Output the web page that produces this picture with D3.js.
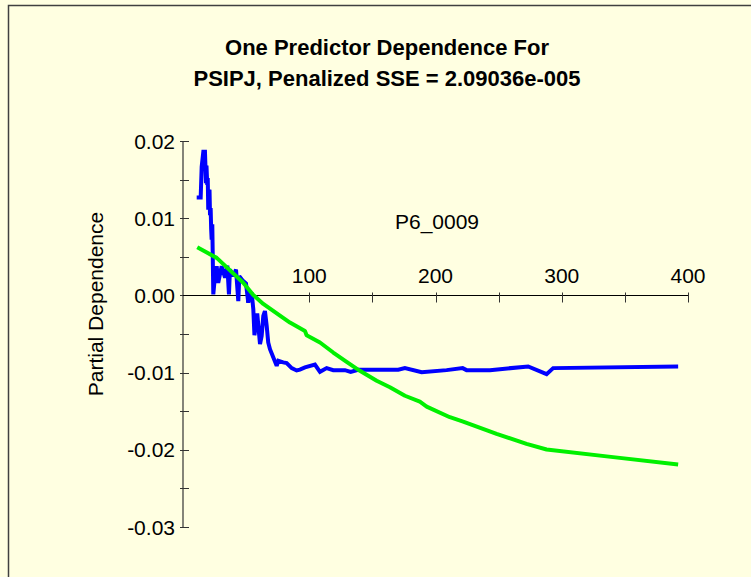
<!DOCTYPE html>
<html>
<head>
<meta charset="utf-8">
<script src="https://cdn.jsdelivr.net/npm/d3@7/dist/d3.min.js"></script>
<style>
  html, body { margin: 0; padding: 0; background: #FFFFE1; }
  svg { display: block; }
  text { font-family: "Liberation Sans", Arial, sans-serif; fill: #000; }
</style>
</head>
<body>
<svg id="chart" width="751" height="577"></svg>
<script>
// ---- Data ----
const titleLines = ["One Predictor Dependence For", "PSIPJ, Penalized SSE = 2.09036e-005"];
const xLabel = "P6_0009";
const yLabel = "Partial Dependence";

const xMajorTicks = [100, 200, 300, 400];
const xAllTicks = [50, 100, 150, 200, 250, 300, 350, 400];
const yMajorTicks = [0.02, 0.01, 0.00, -0.01, -0.02, -0.03];
const yAllTicks = [0.02, 0.015, 0.01, 0.005, 0, -0.005, -0.01, -0.015, -0.02, -0.025, -0.03];

// Blue series: partial dependence (x, value)
const blueX = [10.85, 14.0, 14.8, 16.1, 17.4, 18.2, 18.6, 19.2, 19.6, 20.0, 20.5, 21.0, 21.4, 21.9, 22.3,
  22.7, 23.2, 24.0, 25.3, 26.7, 27.9,
  30.6, 33.3, 35.1, 36.4, 37.2, 39.8, 42.0, 43.8, 44.6, 47.7, 49.9, 51.7, 53.0, 54.4, 55.7, 56.6, 58.8,
  61.0, 62.3, 63.6, 64.9, 66.3, 67.5, 68.9, 74.2, 75.5, 79.4, 82.1, 86.1, 90.0, 92.6, 96.6, 104.5,
  108.5, 113.8, 119.0, 128.3, 132.8, 138.8, 170.5, 175.8, 189.0, 208.8, 221.5, 224.6, 243.1, 273.4,
  288.0, 293.2, 392.2];
const blueY = [0.01268, 0.01268, 0.01668, 0.01862, 0.01862, 0.01454, 0.0168, 0.01432, 0.0152, 0.0111,
  0.0136, 0.01368, 0.0104, 0.01132, 0.0086, 0.00723, 0.0092, 0.00013, 0.00249, 0.00378, 0.00164,
  0.00378, 0.00228, 0.00387, 0.00013, 0.00335, 0.00249,
  0.00335, -0.00074, 0.00249, 0.00185, 0.00155, -0.00094, 0.00013, 0.00035, -0.00181, -0.00516,
  -0.00235, -0.00632, -0.00525, -0.00267, -0.00203, -0.00396, -0.0061, -0.00697, -0.00912, -0.00848,
  -0.00868, -0.00877, -0.00942, -0.00972, -0.00961, -0.00933, -0.00895, -0.0099, -0.00942, -0.00968,
  -0.00968, -0.0099, -0.00963, -0.00963, -0.00942, -0.00994, -0.00968, -0.00942, -0.00968, -0.00968,
  -0.0092, -0.0102, -0.00942, -0.0092];

// Green series: smoothed fit (x, value)
const greenX = [11.3, 26.7, 47.7, 55.7, 63.6, 76.8, 84.7, 96.6, 97.9, 108.5, 119, 129.6, 140.1, 153.4,
  163.9, 175.8, 187.6, 193, 211.4, 221.9, 248.4, 272.1, 288, 340.7, 392.2];
const greenY = [0.00623, 0.00486, 0.00164, 0.00004, -0.0011, -0.00262, -0.00352, -0.0046, -0.00516,
  -0.0061, -0.0074, -0.0086, -0.00977, -0.01106, -0.0119, -0.013, -0.01377, -0.0144, -0.01578,
  -0.01635, -0.01794, -0.01923, -0.01996, -0.02095, -0.0219];

// ---- Drawing ----
const svg = d3.select("#chart");
const W = 751, H = 577;

svg.append("rect").attr("x", 0).attr("y", 0).attr("width", W).attr("height", H).attr("fill", "#FFFFE1");
// frame (left and top edges)
svg.append("path").attr("d", `M8.5,${H} L8.5,5.5 L${W},5.5`)
  .attr("fill", "none").attr("stroke", "#404040").attr("stroke-width", 1.5);

const x = d3.scaleLinear().domain([0, 400]).range([183, 688]);
const y = d3.scaleLinear().domain([-0.03, 0.02]).range([527, 141]);

const axisColor = "#333";

// Title
const title = svg.append("text").attr("text-anchor", "middle")
  .style("font-weight", "bold").style("font-size", "22px");
titleLines.forEach((t, i) => {
  title.append("tspan").attr("x", 387).attr("y", 55 + i * 31).text(t);
});

// Y axis
const yAxisG = svg.append("g");
yAxisG.append("line").attr("x1", x(0)).attr("x2", x(0)).attr("y1", y(0.02)).attr("y2", y(-0.03))
  .attr("stroke", axisColor).attr("stroke-width", 1.2);
yAxisG.selectAll("line.tick").data(yAllTicks).join("line").attr("class", "tick")
  .attr("x1", x(0) - 3).attr("x2", x(0) + 6)
  .attr("y1", d => Math.round(y(d)) + 0.5).attr("y2", d => Math.round(y(d)) + 0.5)
  .attr("stroke", axisColor).attr("stroke-width", 1);
yAxisG.selectAll("text").data(yMajorTicks).join("text")
  .attr("x", x(0) - 8).attr("y", d => y(d)).attr("dy", "0.36em")
  .attr("text-anchor", "end").style("font-size", "21px")
  .text(d => (Math.abs(d) < 1e-9 ? 0 : d).toFixed(2));

// X axis (crosses at y = 0)
const y0 = Math.round(y(0)) + 0.5;
const xAxisG = svg.append("g");
xAxisG.append("line").attr("x1", x(0)).attr("x2", x(400)).attr("y1", y0).attr("y2", y0)
  .attr("stroke", "#000").attr("stroke-width", 1.2);
xAxisG.selectAll("line.tick").data(xAllTicks).join("line").attr("class", "tick")
  .attr("x1", d => Math.round(x(d)) + 0.5).attr("x2", d => Math.round(x(d)) + 0.5)
  .attr("y1", y0 - 3).attr("y2", y0 + 7)
  .attr("stroke", axisColor).attr("stroke-width", 1);
xAxisG.selectAll("text").data(xMajorTicks).join("text")
  .attr("x", d => x(d)).attr("y", y0 - 13)
  .attr("text-anchor", "middle").style("font-size", "21px")
  .text(d => d);

// Axis titles
svg.append("text").attr("x", 437).attr("y", 229).attr("text-anchor", "middle")
  .style("font-size", "21px").text(xLabel);
svg.append("text").attr("transform", "translate(103,304) rotate(-90)")
  .attr("text-anchor", "middle").style("font-size", "21px").text(yLabel);

// Lines
const line = d3.line().x(d => x(d[0])).y(d => y(d[1]));
const blue = blueX.map((v, i) => [v, blueY[i]]);
const green = greenX.map((v, i) => [v, greenY[i]]);

svg.append("path").datum(blue).attr("d", line)
  .attr("fill", "none").attr("stroke", "#0000FF").attr("stroke-width", 4)
  .attr("stroke-linejoin", "miter").attr("stroke-miterlimit", 2);
svg.append("path").datum(green).attr("d", line)
  .attr("fill", "none").attr("stroke", "#00F000").attr("stroke-width", 4)
  .attr("stroke-linejoin", "round");
</script>
</body>
</html>
